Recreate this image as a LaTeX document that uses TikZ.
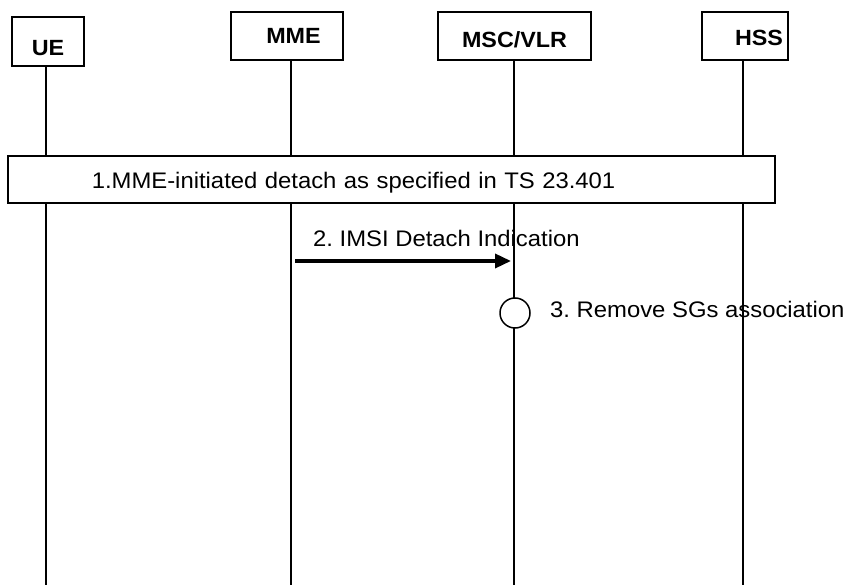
\documentclass[tikz,border=0pt]{standalone}
\usepackage{fontspec}
\setmainfont[FakeStretch=1.06]{Liberation Sans}
\usetikzlibrary{arrows.meta}
\frenchspacing
\begin{document}
\begin{tikzpicture}[x=1pt,y=-1pt,
  txt/.style={font=\fontsize{22.5}{27}\selectfont, inner sep=0pt},
  hdr/.style={draw, line width=1.5pt, fill=white, inner sep=0pt,
    font=\bfseries\fontsize{22}{26}\selectfont},
  thickline/.style={line width=2pt},
  thinline/.style={line width=1.2pt},
  msg/.style={line width=3.5pt, -{Triangle[length=16pt,width=14pt]}},
  stepbox/.style={draw, line width=1.5pt, fill=white, anchor=west,
    inner xsep=84pt, inner ysep=0pt, text width=599pt, align=left,
    minimum height=47pt, font=\fontsize{22.5}{27}\selectfont},
  action/.style={draw, circle, line width=1.5pt, fill=white, minimum size=30pt, inner sep=0pt}
]
\useasboundingbox (0,0) rectangle (847,585);

% header boxes
\node[hdr, minimum width=72pt, minimum height=49pt] (ue) at (48,41.5) {\raisebox{-7pt}[\height][\depth]{UE}};
\node[hdr, minimum width=112pt, minimum height=48pt] (mme) at (287,36) {\hspace*{13pt}MME};
\node[hdr, minimum width=153pt, minimum height=48pt] (msc) at (514.5,36) {\raisebox{-3.5pt}[\height][\depth]{MSC/VLR}};
\node[hdr, minimum width=86pt, minimum height=48pt] (hss) at (745,36) {\hspace*{28pt}\raisebox{-1.5pt}[\height][\depth]{HSS}};

% bottom ends of lifelines
\coordinate (uebot) at (46,585);
\coordinate (mmebot) at (291,585);
\coordinate (mscbot) at (514,585);
\coordinate (hssbot) at (743,585);

% labels (lifelines drawn over them)
\node[txt, anchor=west] (lbl2) at (313,238) {2. IMSI Detach Indication};
\node[txt, anchor=west] (lbl3) at (550,309.5) {3. Remove SGs association};

% lifelines
\draw[thickline] (ue.south -| uebot) -- (uebot);
\draw[thickline] (mme.south -| mmebot) -- (mmebot);
\draw[thinline] (msc.south -| mscbot) -- (mscbot);
\draw[thinline] (hss.south -| hssbot) -- (hssbot);

% step 1 box
\node[stepbox] (step1) at (7,179.5) {\raisebox{-3pt}[\height][\depth]{1.MME-initiated detach as specified in TS 23.401}};

% step 2 message
\coordinate (m2) at (295,261);
\coordinate (s2) at (511,261);
\draw[msg] (m2) -- (s2);

% step 3 action
\node[action] (act3) at (515,313) {};
\end{tikzpicture}
\end{document}
